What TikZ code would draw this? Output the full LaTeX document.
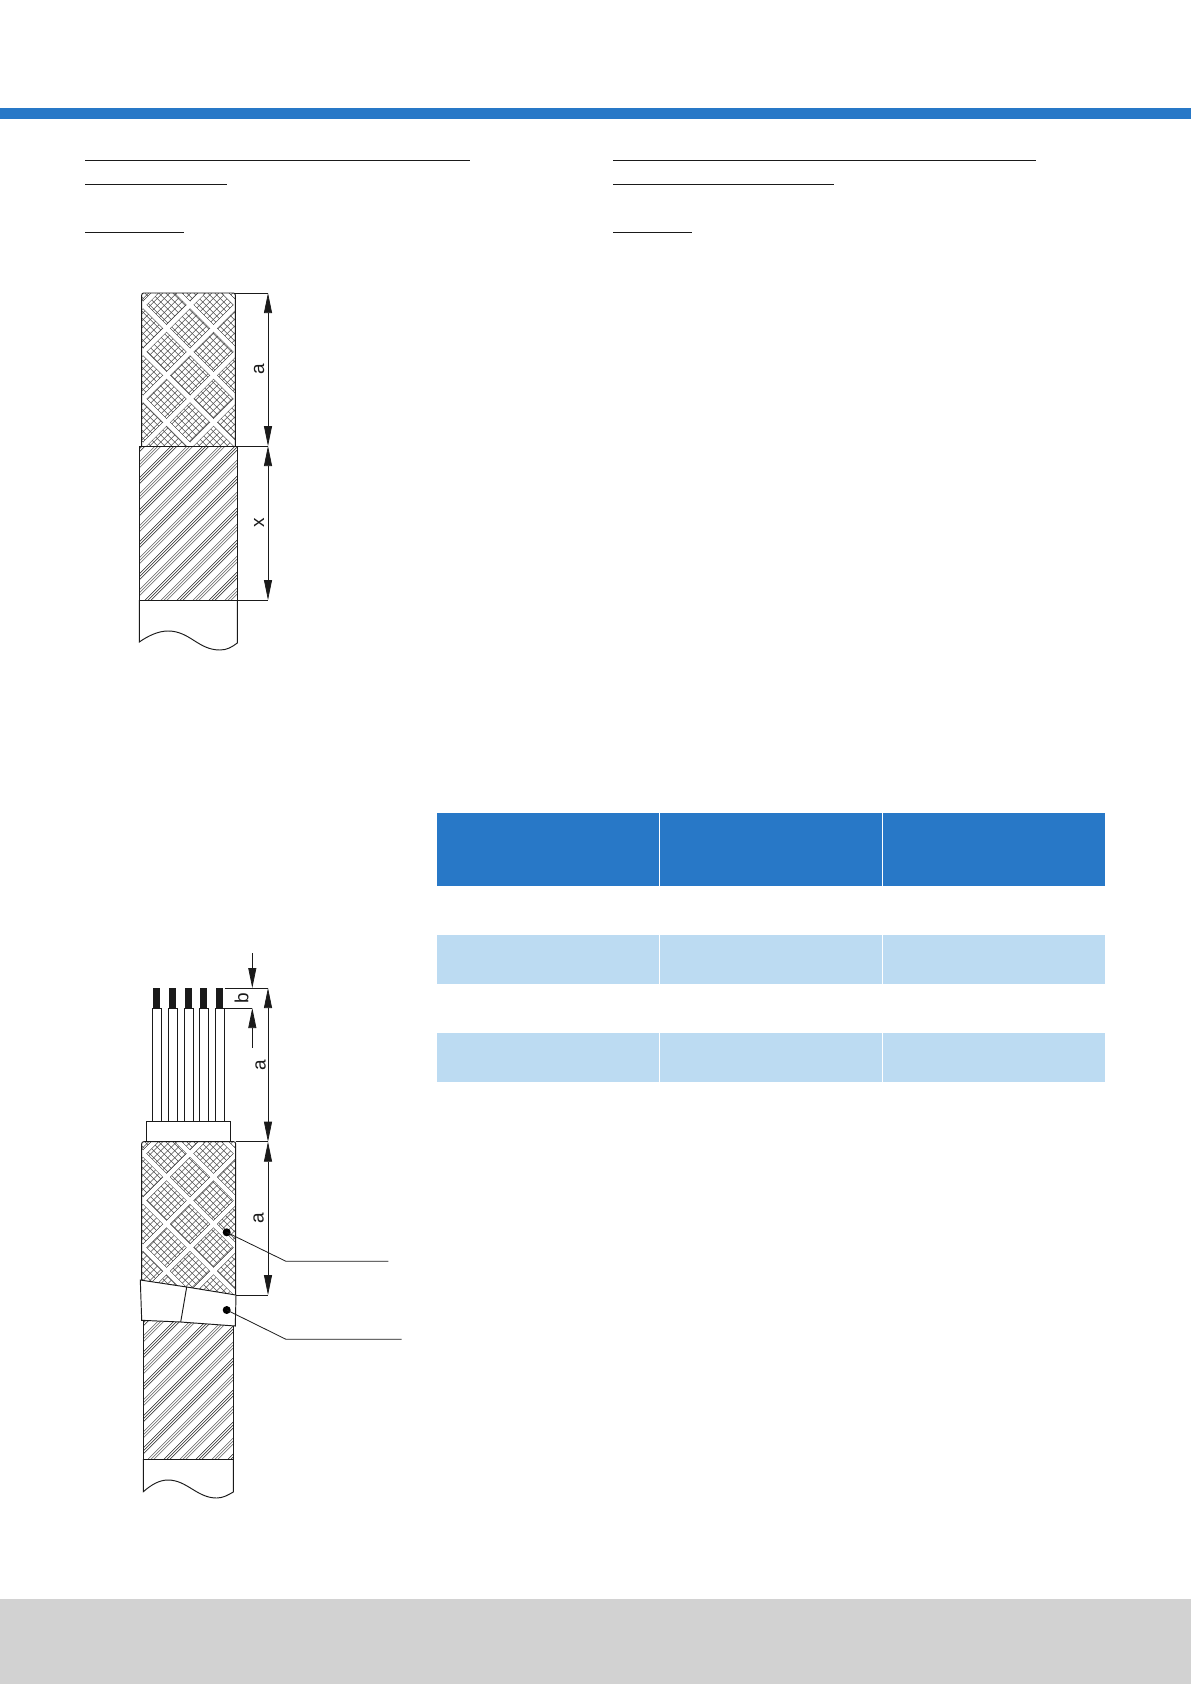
\documentclass[tikz,border=0pt]{standalone}
\usepackage{fontspec}
\setmainfont{Liberation Sans}
\usetikzlibrary{arrows.meta}

\definecolor{barblue}{RGB}{40,120,199}
\definecolor{rowblue}{RGB}{188,219,242}
\definecolor{footgray}{RGB}{210,210,210}
\definecolor{inkblack}{RGB}{26,26,26}

\tikzset{
    outline/.style={draw=inkblack,line width=0.95pt},
    textrule/.style={draw=inkblack,line width=1pt},
    dimline/.style={draw=inkblack,line width=0.75pt},
    dimarrow/.style={dimline,{Triangle[length=20pt,width=8pt]}-{Triangle[length=20pt,width=8pt]}},
    tipend/.style={dimline,-{Triangle[length=20pt,width=8pt]}},
    leader/.style={draw=inkblack,line width=0.8pt},
    dimlabel/.style={font=\fontsize{19}{19}\selectfont,text=inkblack,rotate=90,inner sep=0pt},
    headcell/.style={fill=barblue,anchor=north west,inner sep=0pt,minimum width=222pt,minimum height=73pt},
    rowcell/.style={fill=rowblue,anchor=north west,inner sep=0pt,minimum width=222pt,minimum height=49pt},
    dotmark/.style={circle,fill=black,inner sep=0pt,minimum size=8pt}
}

% Slanted line hatching of the sheath
\newcommand{\sheathfill}[4]{
    \begin{scope}
        \clip (#1,#2) rectangle (#3,#4);
        \foreach \c in {0,32,...,384} {
            \foreach \o in {0,3,6} {
                \draw[black!90,line width=0.5pt] ({#1+\c+\o},#2) -- ({#1+\c+\o-260},{#2+260});
            }
            \foreach \o in {16,19,22} {
                \draw[black!65,line width=0.55pt] ({#1+\c+\o},#2) -- ({#1+\c+\o-260},{#2+260});
            }
        }
    \end{scope}
}

% Crossed mesh with white bands of the braid
\newcommand{\braidfill}[4]{
    \begin{scope}
        \clip[rounded corners=2pt] (#1,#2) rectangle (#3,#4);
        \foreach \c in {0,7,...,300} {
            \draw[black!70,line width=0.5pt] ({#1+\c},#2) -- ({#1+\c-200},{#2+200});
        }
        \foreach \d in {-200,-193,...,120} {
            \draw[black!70,line width=0.5pt] ({#1+\d},#2) -- ({#1+\d+200},{#2+200});
        }
        % band edges first, then the white bands over them
        \foreach \c in {13.2,60.2,...,300} {
            \draw[white,line width=5pt] ({#1+\c},#2) -- ({#1+\c-200},{#2+200});
            \draw[black!80,line width=0.5pt] ({#1+\c-3.6},#2) -- ({#1+\c-3.6-200},{#2+200});
            \draw[black!80,line width=0.5pt] ({#1+\c+3.6},#2) -- ({#1+\c+3.6-200},{#2+200});
        }
        \foreach \d in {-198.5,-151.5,...,120} {
            \draw[white,line width=5pt] ({#1+\d},#2) -- ({#1+\d+200},{#2+200});
            \draw[black!80,line width=0.5pt] ({#1+\d-3.6},#2) -- ({#1+\d-3.6+200},{#2+200});
            \draw[black!80,line width=0.5pt] ({#1+\d+3.6},#2) -- ({#1+\d+3.6+200},{#2+200});
        }
        \foreach \c in {13.2,60.2,...,300} {
            \draw[white,line width=4.4pt] ({#1+\c},#2) -- ({#1+\c-200},{#2+200});
        }
        \foreach \d in {-198.5,-151.5,...,120} {
            \draw[white,line width=4.4pt] ({#1+\d},#2) -- ({#1+\d+200},{#2+200});
        }
    \end{scope}
}

\begin{document}
\begin{tikzpicture}[x=1pt,y=-1pt]
    \useasboundingbox (0,0) rectangle (1191,1684);

    % Header bar and footer band
    \fill[barblue] (0,108) rectangle (1191,119);
    \fill[footgray] (0,1599) rectangle (1191,1684);

    % Rules under the headings
    \draw[textrule] (85,160) -- (470,160);
    \draw[textrule] (85,184) -- (227,184);
    \draw[textrule] (85,232) -- (184,232);
    \draw[textrule] (613,160) -- (1036,160);
    \draw[textrule] (613,184) -- (834,184);
    \draw[textrule] (613,232) -- (692,232);

    % Table cells
    \foreach \n/\x in {a/437,b/660,c/883} {
        \node[headcell] (head\n) at (\x,813) {};
        \node[rowcell] (rowone\n) at (\x,935) {};
        \node[rowcell] (rowtwo\n) at (\x,1033) {};
    }

    % Upper cable: braid, sheath and cut end
    \braidfill{141.7}{293}{235.3}{446}
    \draw[outline,rounded corners=2pt] (141.7,446) -- (141.7,293) -- (235.3,293) -- (235.3,446);
    \sheathfill{139.3}{446}{237.3}{600}
    \draw[outline] (139.3,446) rectangle (237.3,600);
    \draw[outline] (139.3,600) -- (139.3,642) .. controls (148,636) and (158,631) .. (168,631)
        .. controls (190,631) and (198,650) .. (220,650) .. controls (227,650) and (232,647) .. (237.3,643) -- (237.3,600);

    % Dimensions of the upper cable
    \coordinate (upTop) at (268,293);
    \coordinate (upMid) at (268,446);
    \coordinate (upLow) at (268,600);
    \draw[dimline] (235.3,293) -- (upTop);
    \draw[dimline] (237.3,446) -- (upMid);
    \draw[dimline] (237.3,600) -- (upLow);
    \draw[dimarrow] (upTop) -- (upMid);
    \draw[dimarrow] (upMid) -- (upLow);
    \node[dimlabel] (upA) at (259,369) {a};
    \node[dimlabel] (upX) at (259,523) {x};

    % Lower cable: wires with bare ends and collar
    \foreach \x in {152.3,168.3,184.3,199.3,215.3} {
        \draw[outline,fill=white] (\x,1008) rectangle ({\x+9.4},1122);
        \fill[inkblack] ({\x+1},988) rectangle ({\x+8},1008);
    }
    \draw[outline,fill=white] (146.3,1121.7) rectangle (230.3,1141.7);

    % Lower cable: braid and taped joint
    \braidfill{141.7}{1141.7}{235.7}{1297}
    \draw[outline,rounded corners=2pt] (141.7,1282) -- (141.7,1141.7) -- (235.7,1141.7) -- (235.7,1295);
    \sheathfill{143.3}{1320}{233.3}{1459}
    \draw[outline] (143.3,1320) -- (143.3,1459) -- (233.3,1459) -- (233.3,1322);
    \draw[outline,fill=white] (140.3,1280) -- (186.7,1287) -- (236,1295) -- (235.3,1326)
        -- (180.7,1322) -- (141.7,1320.3) -- cycle;
    \draw[outline] (186.7,1287) -- (180.7,1322);
    \draw[outline] (143.3,1459) -- (143.3,1491.7) .. controls (151,1485) and (159,1480) .. (168,1480)
        .. controls (187,1480) and (197,1498) .. (216.7,1498) .. controls (223,1498) and (228,1495) .. (233.3,1492) -- (233.3,1459);

    % Dimensions of the lower cable
    \coordinate (loTop) at (268,988);
    \coordinate (loWire) at (252.3,1008);
    \coordinate (loMid) at (268,1141.7);
    \coordinate (loLow) at (268,1295);
    \coordinate (bTop) at (252.3,953);
    \coordinate (bTip) at (252.3,988);
    \coordinate (bLow) at (252.3,1047.7);
    \draw[dimline] (224.7,988) -- (loTop);
    \draw[dimline] (224.7,1008) -- (loWire);
    \draw[dimline] (235.7,1141.7) -- (loMid);
    \draw[dimline] (236,1295) -- (loLow);
    \draw[tipend] (bTop) -- (bTip);
    \draw[tipend] (bLow) -- (loWire);
    \draw[dimarrow] (loTop) -- (loMid);
    \draw[dimarrow] (loMid) -- (loLow);
    \node[dimlabel] (loB) at (241.7,998) {b};
    \node[dimlabel] (loA) at (260.7,1065) {a};
    \node[dimlabel] (loC) at (258.5,1218) {a};

    % Leader lines from the dots
    \node[dotmark] (dotBraid) at (226.7,1232.3) {};
    \node[dotmark] (dotTape) at (226.7,1310) {};
    \coordinate (kneeBraid) at (286,1261.3);
    \coordinate (endBraid) at (388.3,1261.3);
    \coordinate (kneeTape) at (286,1339.3);
    \coordinate (endTape) at (401.7,1339.3);
    \draw[leader] (dotBraid.center) -- (kneeBraid) -- (endBraid);
    \draw[leader] (dotTape.center) -- (kneeTape) -- (endTape);
\end{tikzpicture}
\end{document}
